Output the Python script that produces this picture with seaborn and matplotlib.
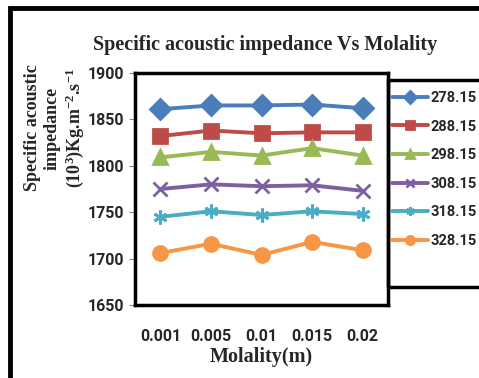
import matplotlib
matplotlib.use('Agg')
import matplotlib.pyplot as plt
import seaborn as sns
import pandas as pd
from matplotlib.patches import Rectangle

# data
molality = ["0.001", "0.005", "0.01", "0.015", "0.02"]
temps = ["278.15", "288.15", "298.15", "308.15", "318.15", "328.15"]
z_278 = [1861, 1865, 1865, 1866, 1862]
z_288 = [1832, 1838, 1835, 1836, 1836]
z_298 = [1809, 1815, 1811, 1819, 1811]
z_308 = [1775, 1780, 1778, 1779, 1773]
z_318 = [1745, 1751, 1747, 1751, 1748]
z_328 = [1706, 1716, 1704, 1718, 1709]

colors = ["#4A7EBB", "#BE4B48", "#98B954", "#7D60A0", "#4BACC6", "#F79646"]
markers = ["D", "s", "^", "x", (6, 2, 0), "o"]

series = [z_278, z_288, z_298, z_308, z_318, z_328]

sns.set_style("white")
plt.rcParams['font.family'] = ['Roboto', 'DejaVu Sans']
plt.rcParams['mathtext.fontset'] = 'custom'
plt.rcParams['mathtext.rm'] = 'Liberation Serif:bold'
plt.rcParams['mathtext.it'] = 'Liberation Serif:bold'
plt.rcParams['mathtext.bf'] = 'Liberation Serif:bold'

fig = plt.figure(figsize=(4.79, 3.78), dpi=100)
ax = fig.add_axes([0.282, 0.193, 0.528, 0.614])

for t, vals, c, mk in zip(temps, series, colors, markers):
    d = pd.DataFrame({"Molality": molality, "Z": vals})
    sns.lineplot(data=d, x="Molality", y="Z", color=c, marker=mk,
                 linewidth=2.8, markersize=10, markeredgewidth=2,
                 markeredgecolor=c, markerfacecolor=c,
                 label=t, ax=ax, sort=False)

ax.set_xlim(-0.5, 4.5)
ax.set_ylim(1650, 1900)
ax.set_yticks([1650, 1700, 1750, 1800, 1850, 1900])
ax.tick_params(axis='y', left=True, length=4, width=0.8, color='#888888', pad=4, labelsize=11.5)
ax.tick_params(axis='x', bottom=False, pad=14, labelsize=11.5)
for lab in ax.get_xticklabels() + ax.get_yticklabels():
    lab.set_fontweight('bold')
for sp in ax.spines.values():
    sp.set_linewidth(2.5)
    sp.set_color('black')

ax.set_xlabel("Molality(m)", fontfamily='Liberation Serif', fontweight='bold',
              fontsize=14.5, labelpad=2)
ax.set_ylabel("")
fig.text(55 / 479, 1 - 128 / 378,
         "Specific acoustic\nimpedance\n(10$^{3}$)Kg.m$^{-2}$.s$^{-1}$",
         rotation=90, ha='center', va='center', multialignment='center',
         fontfamily='Liberation Serif', fontweight='bold', fontsize=13,
         linespacing=1.2)

fig.text(0.553, 0.88, "Specific acoustic impedance Vs Molality",
         ha='center', va='center', fontfamily='Liberation Serif',
         fontweight='bold', fontsize=14.5)

# legend box on the right
handles, labels = ax.get_legend_handles_labels()
ax.get_legend().remove()
leg = fig.legend(handles, labels, loc='upper left',
                 bbox_to_anchor=(392 / 479, 1 - 91 / 378),
                 bbox_transform=fig.transFigure, frameon=False,
                 fontsize=10.5, handlelength=2.5, markerscale=0.6,
                 handletextpad=0.15, labelspacing=1.0, borderpad=0,
                 borderaxespad=0)
for t in leg.get_texts():
    t.set_fontweight('bold')
fig.patches.append(Rectangle((388 / 479, 1 - 287 / 378), 0.3, 207 / 378,
                             transform=fig.transFigure, fill=False,
                             edgecolor='black', linewidth=2.5))

# outer chart border
fig.patches.append(Rectangle((10 / 479, -0.05), 1.1, 1 - 8 / 378 + 0.05,
                             transform=fig.transFigure, fill=False,
                             edgecolor='black', linewidth=3.5))

fig.savefig("out.png", dpi=100)
